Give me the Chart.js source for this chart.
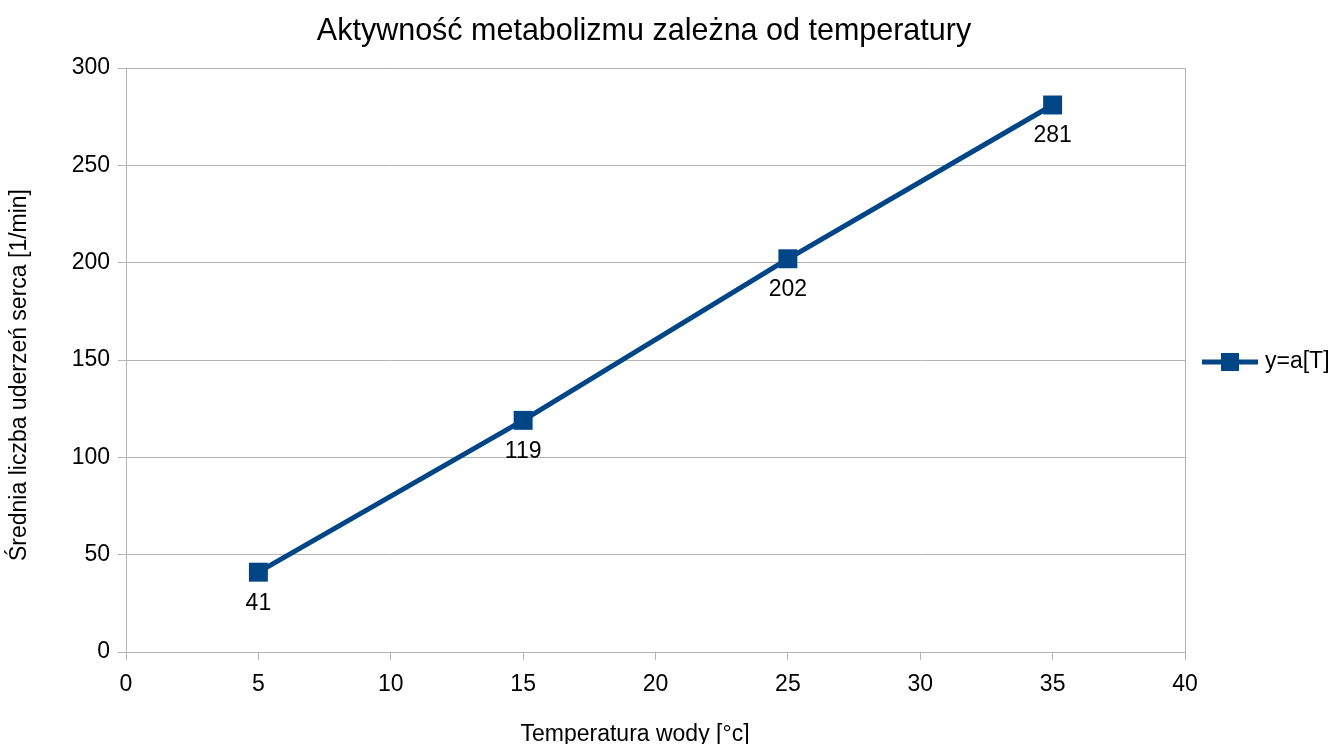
<!DOCTYPE html>
<html>
<head>
<meta charset="utf-8">
<script src="https://cdn.jsdelivr.net/npm/chart.js@4.4.0/dist/chart.umd.min.js"></script>
<style>
  body { margin: 0; background: #fff; }
</style>
</head>
<body>
<canvas id="chart" width="1338" height="744"></canvas>
<script>
// data
const temps = [5, 15, 25, 35];
const beats = [41, 119, 202, 281];
const seriesName = "y=a[T]";
const chartTitle = "Aktywność metabolizmu zależna od temperatury";
const xTitle = "Temperatura wody [°c]";
const yTitle = "Średnia liczba uderzeń serca [1/min]";

const lineColor = "#004586";
const gridColor = "#b3b3b3";
const fontFamily = "'Liberation Sans', Arial, sans-serif";

Chart.defaults.font.family = fontFamily;
Chart.defaults.color = "#000";

// titles, legend and value labels, placed like the LibreOffice export
const extras = {
    id: "extras",
    afterDraw(chart) {
        const ctx = chart.ctx;
        const area = chart.chartArea;
        ctx.save();
        ctx.fillStyle = "#000";

        // chart title
        ctx.font = "30.5px " + fontFamily;
        ctx.textAlign = "center";
        ctx.textBaseline = "alphabetic";
        ctx.fillText(chartTitle, 644, 40);

        // x axis title
        ctx.font = "23px " + fontFamily;
        ctx.fillText(xTitle, 635, 741);

        // y axis title
        ctx.save();
        ctx.translate(20, 375);
        ctx.rotate(-Math.PI / 2);
        ctx.textBaseline = "middle";
        ctx.fillText(yTitle, 0, 0);
        ctx.restore();

        // legend
        const ly = (area.top + area.bottom) / 2 + 2;
        ctx.fillStyle = lineColor;
        ctx.fillRect(1202, ly - 2.5, 56, 5);
        ctx.fillRect(1221, ly - 9, 18, 18);
        ctx.fillStyle = "#000";
        ctx.textAlign = "left";
        ctx.textBaseline = "middle";
        ctx.font = "23px " + fontFamily;
        ctx.fillText(seriesName, 1265, ly);

        ctx.restore();
    },
    afterDatasetsDraw(chart) {
        // value under every point
        const ctx = chart.ctx;
        const meta = chart.getDatasetMeta(0);
        ctx.save();
        ctx.font = "23px " + fontFamily;
        ctx.fillStyle = "#000";
        ctx.textAlign = "center";
        ctx.textBaseline = "middle";
        meta.data.forEach((pt, i) => {
            ctx.fillText(String(beats[i]), pt.x, pt.y + 31);
        });
        ctx.restore();
    }
};

const myChart = new Chart(document.getElementById("chart"), {
    type: "line",
    data: {
        datasets: [{
            label: seriesName,
            data: temps.map((t, i) => ({ x: t, y: beats[i] })),
            borderColor: lineColor,
            backgroundColor: lineColor,
            borderWidth: 5,
            pointStyle: "rect",
            pointRadius: 13.4,
            pointBorderWidth: 0,
            tension: 0,
        }],
    },
    plugins: [extras],
    options: {
        responsive: false,
        animation: false,
        layout: {
            padding: { left: 0, right: 153, top: 68, bottom: 0 },
        },
        plugins: {
            title: { display: false },
            legend: { display: false },
            tooltip: { enabled: false },
        },
        scales: {
            x: {
                type: "linear",
                min: 0,
                max: 40,
                ticks: {
                    stepSize: 5,
                    font: { size: 23 },
                    color: "#000",
                    padding: 11,
                },
                grid: {
                    // only the frame lines at 0 and 40 run through the plot
                    color: (c) => (c.tick && (c.tick.value === 0 || c.tick.value === 40)) ? gridColor : "rgba(0,0,0,0)",
                    tickColor: gridColor,
                    tickLength: 8,
                },
                border: { color: gridColor },
                afterFit: (scale) => { scale.height = 92; },
            },
            y: {
                min: 0,
                max: 300,
                ticks: {
                    stepSize: 50,
                    font: { size: 23 },
                    color: "#000",
                    padding: 8,
                },
                grid: {
                    color: gridColor,
                    tickColor: gridColor,
                    tickLength: 8,
                },
                border: { color: gridColor },
                afterFit: (scale) => { scale.width = 126; },
            },
        },
    },
});
</script>
</body>
</html>
